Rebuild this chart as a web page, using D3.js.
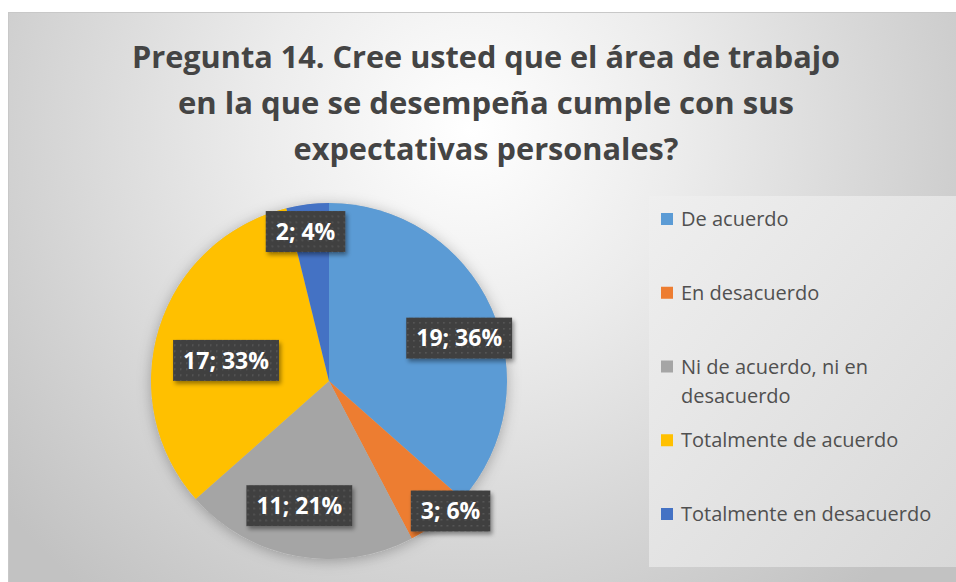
<!DOCTYPE html>
<html>
<head>
<meta charset="utf-8">
<script src="https://cdn.jsdelivr.net/npm/d3@7"></script>
<style>
  html, body { margin: 0; padding: 0; background: #fff; }
  svg { display: block; }
</style>
</head>
<body>
<div id="chart"></div>
<script>
// Data.
var categories = [
  'De acuerdo',
  'En desacuerdo',
  'Ni de acuerdo, ni en desacuerdo',
  'Totalmente de acuerdo',
  'Totalmente en desacuerdo'
];
var counts = [19, 3, 11, 17, 2];
var percentLabels = ['36%', '6%', '21%', '33%', '4%'];
var colors = ['#5B9BD5', '#ED7D31', '#A5A5A5', '#FFC000', '#4472C4'];
var titleLines = [
  'Pregunta 14. Cree usted que el área de trabajo',
  'en la que se desempeña cumple con sus',
  'expectativas personales?'
];

var config = {
  width: 956,
  height: 582,
  fontFamily: '"Open Sans", "DejaVu Sans", sans-serif'
};

var layout = {
  frame: { x: 8, y: 12 },
  title: { cx: 486, y: 68, lineHeight: 46, size: 30, widths: [708, 616, 385] },
  pie: { cx: 329, cy: 381, r: 178 },
  // radius fraction and angle nudge (deg) for each data label, like Excel's best fit
  labelPlace: [[0.77, 6], [1.0, -5], [0.72, 3], [0.59, -6], [0.85, -2]],
  labelBox: { h: 41, padX: 10, fontSize: 23 },
  legend: { x: 649, y: 196, w: 310, h: 371, markX: 661, textX: 681, firstY: 219,
            step: 73.75, mark: 12, fontSize: 20, lineHeight: 29, maxWidth: 266 }
};

function translate(x, y) {
  return 'translate(' + x + ', ' + y + ')';
}

var svg = d3.select('#chart').append('svg')
  .attr('width', config.width)
  .attr('height', config.height);

var defs = svg.append('defs');

var bg = defs.append('radialGradient')
  .attr('id', 'bg')
  .attr('gradientUnits', 'userSpaceOnUse')
  .attr('cx', 470).attr('cy', 130).attr('r', 600);
bg.append('stop').attr('offset', 0).attr('stop-color', '#ffffff');
bg.append('stop').attr('offset', 0.35).attr('stop-color', '#ececec');
bg.append('stop').attr('offset', 1).attr('stop-color', '#c2c2c2');

var legBg = defs.append('linearGradient')
  .attr('id', 'legbg')
  .attr('x1', 0).attr('y1', 0).attr('x2', 1).attr('y2', 1);
legBg.append('stop').attr('offset', 0).attr('stop-color', '#efefef');
legBg.append('stop').attr('offset', 1).attr('stop-color', '#d8d8d8');

var dots = defs.append('pattern')
  .attr('id', 'dots')
  .attr('patternUnits', 'userSpaceOnUse')
  .attr('width', 6).attr('height', 6);
dots.append('rect').attr('width', 6).attr('height', 6).attr('fill', '#404040');
dots.append('rect').attr('x', 2).attr('y', 2).attr('width', 1.5).attr('height', 1.5)
  .attr('fill', '#5c5c5c');

var pieShadow = defs.append('filter').attr('id', 'pieshadow')
  .attr('x', '-20%').attr('y', '-20%').attr('width', '140%').attr('height', '140%');
pieShadow.append('feDropShadow')
  .attr('dx', 0).attr('dy', 2).attr('stdDeviation', 7)
  .attr('flood-color', '#000').attr('flood-opacity', 0.28);

var boxShadow = defs.append('filter').attr('id', 'boxshadow')
  .attr('x', '-20%').attr('y', '-20%').attr('width', '140%').attr('height', '150%');
boxShadow.append('feDropShadow')
  .attr('dx', 2).attr('dy', 3).attr('stdDeviation', 2)
  .attr('flood-color', '#000').attr('flood-opacity', 0.4);

// Chart area.
svg.append('rect')
  .attr('x', layout.frame.x + 0.5)
  .attr('y', layout.frame.y + 0.5)
  .attr('width', config.width)
  .attr('height', config.height)
  .attr('fill', 'url(#bg)')
  .attr('stroke', '#c8c8c8');

// Title.
svg.append('g').selectAll('text').data(titleLines).enter()
  .append('text')
    .attr('x', layout.title.cx)
    .attr('y', function(d, i) { return layout.title.y + i * layout.title.lineHeight; })
    .attr('text-anchor', 'middle')
    .attr('textLength', function(d, i) { return layout.title.widths[i]; })
    .attr('lengthAdjust', 'spacingAndGlyphs')
    .style('font-family', config.fontFamily)
    .style('font-weight', 'bold')
    .style('font-size', layout.title.size + 'px')
    .style('fill', '#444')
    .text(function(d) { return d; });

// Pie.
var pie = d3.pie().sort(null).value(function(d) { return d; });
var arcs = pie(counts);
var arc = d3.arc().innerRadius(0).outerRadius(layout.pie.r);

var plot = svg.append('g')
  .attr('transform', translate(layout.pie.cx, layout.pie.cy));

plot.append('circle')
  .attr('r', layout.pie.r)
  .attr('fill', '#bbb')
  .attr('filter', 'url(#pieshadow)');

plot.selectAll('.slice').data(arcs).enter()
  .append('path')
    .classed('slice', true)
    .attr('d', arc)
    .attr('fill', function(d, i) { return colors[i]; });

// Data labels.
var labels = plot.selectAll('.label').data(arcs).enter()
  .append('g')
    .classed('label', true)
    .attr('transform', function(d, i) {
      var p = layout.labelPlace[i];
      var a = (d.startAngle + d.endAngle) / 2 + p[1] * Math.PI / 180;
      var rr = layout.pie.r * p[0];
      return translate(rr * Math.sin(a), -rr * Math.cos(a));
    });

labels.append('rect')
  .attr('fill', 'url(#dots)')
  .attr('filter', 'url(#boxshadow)');

labels.append('text')
  .attr('text-anchor', 'middle')
  .attr('dy', '0.36em')
  .style('font-family', config.fontFamily)
  .style('font-weight', 'bold')
  .style('font-size', layout.labelBox.fontSize + 'px')
  .style('fill', '#fff')
  .text(function(d, i) { return counts[i] + '; ' + percentLabels[i]; });

labels.each(function() {
  var g = d3.select(this);
  var w = g.select('text').node().getComputedTextLength() + 2 * layout.labelBox.padX;
  g.select('rect')
    .attr('x', -w / 2)
    .attr('y', -layout.labelBox.h / 2)
    .attr('width', w)
    .attr('height', layout.labelBox.h);
});

// Legend.
var L = layout.legend;
var legend = svg.append('g');

legend.append('rect')
  .attr('x', L.x).attr('y', L.y)
  .attr('width', L.w).attr('height', L.h)
  .attr('fill', 'url(#legbg)');

var yLegend = d3.scaleLinear().domain([0, 1]).range([L.firstY, L.firstY + L.step]);

var items = legend.selectAll('.item').data(categories).enter()
  .append('g')
    .classed('item', true)
    .attr('transform', function(d, i) { return translate(0, yLegend(i)); });

items.append('rect')
  .attr('x', L.markX)
  .attr('y', -L.mark / 2)
  .attr('width', L.mark)
  .attr('height', L.mark)
  .attr('fill', function(d, i) { return colors[i]; });

items.append('text')
  .attr('x', L.textX)
  .attr('y', 0)
  .attr('dy', '0.35em')
  .style('font-family', config.fontFamily)
  .style('font-size', L.fontSize + 'px')
  .style('fill', '#505050')
  .each(function(d) {
    // Wrap like the original legend does.
    var text = d3.select(this);
    var words = d.split(' ');
    var line = [];
    var tspan = text.append('tspan').attr('x', L.textX);
    words.forEach(function(word) {
      line.push(word);
      tspan.text(line.join(' '));
      if (tspan.node().getComputedTextLength() > L.maxWidth && line.length > 1) {
        line.pop();
        tspan.text(line.join(' '));
        line = [word];
        tspan = text.append('tspan')
          .attr('x', L.textX)
          .attr('dy', L.lineHeight)
          .text(word);
      }
    });
  });
</script>
</body>
</html>
